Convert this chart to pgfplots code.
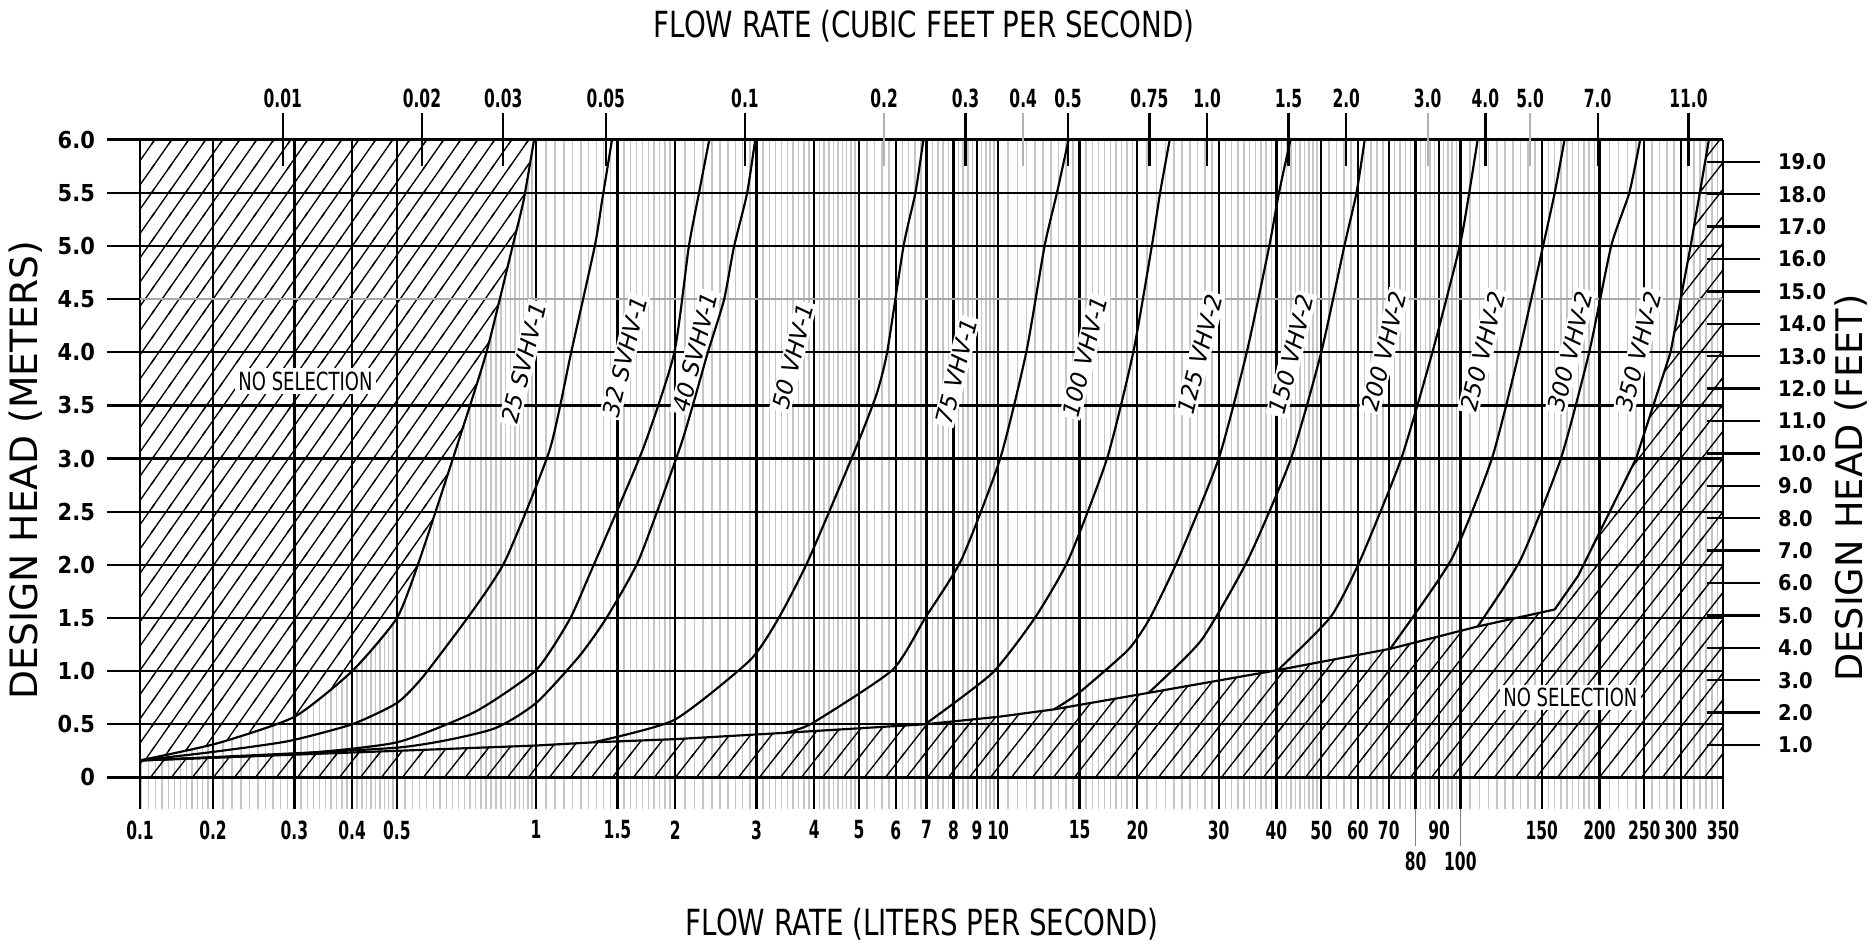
\documentclass[border=0pt]{standalone}
\usepackage{fontspec}
\setmainfont{DejaVu Sans}
\newfontfamily\condfont[FakeStretch=0.62]{DejaVu Sans Bold}
\newfontfamily\boldfont[FakeStretch=0.9]{DejaVu Sans Bold}
\newfontfamily\ttlfont[FakeStretch=0.77]{DejaVu Sans}
\newfontfamily\nsfont[FakeStretch=0.72]{DejaVu Sans}
\usepackage{pgfplots}
\pgfplotsset{compat=1.18}
\usetikzlibrary{patterns}

% hatching for the no-selection areas
\pgfdeclarepatternformonly{hatchA}{\pgfqpoint{-1pt}{-1pt}}{\pgfqpoint{6.1pt}{8.28pt}}{\pgfqpoint{5.1pt}{7.28pt}}{%
  \pgfsetlinewidth{0.4pt}%
  \pgfpathmoveto{\pgfqpoint{-0.51pt}{-0.728pt}}%
  \pgfpathlineto{\pgfqpoint{5.61pt}{8.008pt}}%
  \pgfusepath{stroke}}
\pgfdeclarepatternformonly{hatchB}{\pgfqpoint{-1pt}{-1pt}}{\pgfqpoint{7.3pt}{9.06pt}}{\pgfqpoint{6.3pt}{8.06pt}}{%
  \pgfsetlinewidth{0.4pt}%
  \pgfpathmoveto{\pgfqpoint{-0.63pt}{-0.806pt}}%
  \pgfpathlineto{\pgfqpoint{6.93pt}{8.866pt}}%
  \pgfusepath{stroke}}

\tikzset{
  lbl/.style={rotate=76, fill=white, inner sep=0.6pt, font=\itshape\fontsize{7}{8}\selectfont},
  mgrid/.style={gray!45, line width=0.45pt},
}
\pgfplotsset{curve/.style={black, line width=0.65pt, smooth, tension=0.35}}

\begin{document}
\begin{tikzpicture}
% minor grid and the no-selection areas
\begin{axis}[scale only axis, width=474.9pt, height=200.8pt,
  at={(0pt,0pt)}, anchor=south west,
  xmode=log, xmin=0.139, xmax=370, ymin=-0.297, ymax=6,
  axis line style={draw=none},
  xtick=\empty, ytick=\empty]
\pgfplotsinvokeforeach{0.14,0.145,...,0.197}{\draw[mgrid] (axis cs:#1,-0.297) -- (axis cs:#1,6);}
\pgfplotsinvokeforeach{0.21,0.22,...,0.495}{\draw[mgrid] (axis cs:#1,-0.297) -- (axis cs:#1,6);}
\pgfplotsinvokeforeach{0.52,0.54,...,0.99}{\draw[mgrid] (axis cs:#1,-0.297) -- (axis cs:#1,6);}
\pgfplotsinvokeforeach{1.05,1.1,...,1.97}{\draw[mgrid] (axis cs:#1,-0.297) -- (axis cs:#1,6);}
\pgfplotsinvokeforeach{2.1,2.2,...,4.95}{\draw[mgrid] (axis cs:#1,-0.297) -- (axis cs:#1,6);}
\pgfplotsinvokeforeach{5.2,5.4,...,9.9}{\draw[mgrid] (axis cs:#1,-0.297) -- (axis cs:#1,6);}
\pgfplotsinvokeforeach{10.5,11,...,19.7}{\draw[mgrid] (axis cs:#1,-0.297) -- (axis cs:#1,6);}
\pgfplotsinvokeforeach{21,22,...,49.5}{\draw[mgrid] (axis cs:#1,-0.297) -- (axis cs:#1,6);}
\pgfplotsinvokeforeach{52,54,...,99}{\draw[mgrid] (axis cs:#1,-0.297) -- (axis cs:#1,6);}
\pgfplotsinvokeforeach{105,110,...,197}{\draw[mgrid] (axis cs:#1,-0.297) -- (axis cs:#1,6);}
\pgfplotsinvokeforeach{210,220,...,365}{\draw[mgrid] (axis cs:#1,-0.297) -- (axis cs:#1,6);}
\addplot[draw=none, fill=white]
  coordinates {(0.139,0.16) (0.204,0.32) (0.30,0.57) (0.40,1.0) (0.50,1.5) (0.56,2.05) (0.67,3.08)
               (0.78,3.99) (0.89,5.0) (0.94,5.43) (0.99,6.0) (0.139,6.0)};
\addplot[draw=none, pattern=hatchA, pattern color=black]
  coordinates {(0.139,0.16) (0.204,0.32) (0.30,0.57) (0.40,1.0) (0.50,1.5) (0.56,2.05) (0.67,3.08)
               (0.78,3.99) (0.89,5.0) (0.94,5.43) (0.99,6.0) (0.139,6.0)};
\addplot[draw=none, pattern=hatchB, pattern color=black]
  coordinates {(0.139,0.16) (0.5,0.25) (1.0,0.30) (1.33,0.33) (2.0,0.36) (3.47,0.42) (6.95,0.50)
               (10,0.57) (13.2,0.64) (14.9,0.68) (20.8,0.79) (40.3,1.01) (70.5,1.21) (109,1.42)
               (160,1.58) (180,1.9) (205,2.4) (240,3.0) (285,4.0) (315,5.0) (345,6.0)
               (370,6.0) (370,0) (0.139,0)};
\end{axis}

% major grid, bottom and left scales, curves
\begin{axis}[scale only axis, width=474.9pt, height=200.8pt,
  at={(0pt,0pt)}, anchor=south west,
  xmode=log, xmin=0.139, xmax=370, ymin=-0.297, ymax=6,
  axis line style={draw=none}, clip=false,
  xtick={0.139,0.2,0.3,0.4,0.5,1,1.5,2,3,4,5,6,7,8,9,10,15,20,30,40,50,60,70,80,90,100,150,200,250,300,370},
  xticklabels={0.1,0.2,0.3,0.4,0.5,1,1.5,2,3,4,5,6,7,8,9,10,15,20,30,40,50,60,70,\raisebox{-15pt}{80},90,\raisebox{-15pt}{100},150,200,250,300,350},
  ytick={0,0.5,1,1.5,2,2.5,3,3.5,4,5,5.5,6},
  yticklabels={0,0.5,1.0,1.5,2.0,2.5,3.0,3.5,4.0,5.0,5.5,6.0},
  extra y ticks={4.5}, extra y tick labels={4.5},
  extra y tick style={major grid style={gray!70, line width=0.6pt}},
  xmajorgrids, ymajorgrids,
  major grid style={black, line width=0.7pt},
  xtick pos=left, ytick pos=left,
  xtick align=inside, ytick align=outside,
  major tick length=10pt,
  tick style={black, line width=0.7pt},
  xticklabel style={font=\condfont\fontsize{7.5}{9}\selectfont},
  yticklabel style={font=\boldfont\fontsize{7}{8}\selectfont}]
\draw[gray, line width=0.5pt] (axis cs:80,-0.297) -- ++(0pt,-11pt);
\draw[gray, line width=0.5pt] (axis cs:100,-0.297) -- ++(0pt,-11pt);
\node[fill=white, inner sep=1pt, font=\nsfont\fontsize{7.5}{9}\selectfont] at (axis cs:0.317,3.73) {NO SELECTION};
\node[fill=white, inner sep=1pt, font=\nsfont\fontsize{7.5}{9}\selectfont] at (axis cs:173,0.75) {NO SELECTION};
\node[lbl] at (axis cs:0.94,3.90) {25 SVHV-1};
\node[lbl] at (axis cs:1.555,3.96) {32 SVHV-1};
\node[lbl] at (axis cs:2.21,4.0) {40 SVHV-1};
\node[lbl] at (axis cs:3.60,3.96) {50 VHV-1};
\node[lbl] at (axis cs:8.13,3.82) {75 VHV-1};
\node[lbl] at (axis cs:15.4,3.96) {100 VHV-1};
\node[lbl] at (axis cs:27.3,3.98) {125 VHV-2};
\node[lbl] at (axis cs:43.1,3.98) {150 VHV-2};
\node[lbl] at (axis cs:68.5,4.01) {200 VHV-2};
\node[lbl] at (axis cs:111.8,4.01) {250 VHV-2};
\node[lbl] at (axis cs:173,4.01) {300 VHV-2};
\node[lbl] at (axis cs:243,4.01) {350 VHV-2};
% minimum head line and right limit
\addplot[black, line width=0.65pt] coordinates {(0.139,0.16) (0.5,0.25) (1.0,0.30) (1.33,0.33) (2.0,0.36)
  (3.47,0.42) (6.95,0.50) (10,0.57) (13.2,0.64) (14.9,0.68) (20.8,0.79) (40.3,1.01) (70.5,1.21)
  (109,1.42) (160,1.58) (180,1.9) (205,2.4) (240,3.0) (285,4.0) (315,5.0) (345,6.0)};
% 25 SVHV-1
\addplot[curve] coordinates {(0.139,0.16) (0.204,0.32) (0.30,0.57) (0.40,1.0) (0.50,1.5)
  (0.56,2.05) (0.67,3.08) (0.78,3.99) (0.89,5.0) (0.94,5.43) (0.99,6.0)};
% 32 SVHV-1
\addplot[curve] coordinates {(0.139,0.16) (0.2,0.24) (0.29,0.34) (0.4,0.5) (0.5,0.70)
  (0.57,0.95) (0.73,1.57) (0.86,2.05) (1.07,3.08) (1.19,3.99) (1.34,5.0) (1.39,5.43) (1.46,6.0)};
% 40 SVHV-1
\addplot[curve] coordinates {(0.139,0.16) (0.3,0.22) (0.5,0.33) (0.74,0.62) (1.0,1.01)
  (1.18,1.48) (1.30,1.89) (1.70,3.08) (1.99,3.99) (2.14,4.99) (2.25,5.49) (2.37,6.0)};
% 50 VHV-1
\addplot[curve] coordinates {(0.139,0.16) (0.5,0.28) (0.8,0.45) (1.0,0.70) (1.24,1.14)
  (1.42,1.5) (1.67,2.05) (2.04,3.08) (2.18,3.49) (2.35,3.99) (2.55,4.49) (2.68,4.99) (2.86,5.49) (2.98,6.0)};
% 75 VHV-1
\addplot[curve] coordinates {(1.33,0.33) (1.99,0.54) (2.9,1.10) (3.35,1.5) (3.89,2.05)
  (4.9,3.08) (5.45,3.6) (5.75,4.0) (6.24,5.0) (6.62,5.5) (6.89,6.0)};
% 100 VHV-1
\addplot[curve] coordinates {(3.47,0.42) (3.96,0.51) (5.9,1.01) (6.95,1.50) (8.33,2.05)
  (10.1,3.0) (11.5,4.0) (12.6,5.0) (13.4,5.5) (14.2,6.0)};
% 125 VHV-2
\addplot[curve] coordinates {(6.95,0.50) (9.7,0.98) (12,1.5) (14.2,2.05) (17.2,3.0)
  (19.6,4.0) (21.5,5.0) (22.4,5.5) (23.5,6.0)};
% 150 VHV-2
\addplot[curve] coordinates {(13.2,0.64) (14.9,0.79) (19.1,1.20) (21.3,1.50) (24.5,2.05)
  (30,3.0) (34.5,4.0) (38.6,5.0) (40.5,5.5) (42.9,6.0)};
% 200 VHV-2
\addplot[curve] coordinates {(21.2,0.80) (27.5,1.29) (34.7,2.05) (43,3.0) (50,4.0)
  (56.1,5.0) (59.6,5.5) (62.1,6.0)};
% 250 VHV-2
\addplot[curve] coordinates {(40.3,1.01) (52.4,1.51) (60.8,2.05) (74.5,3.0) (87,4.0)
  (99.7,5.0) (104.5,5.5) (109,6.0)};
% 300 VHV-2
\addplot[curve] coordinates {(70.5,1.21) (95.6,2.05) (117,3.0) (134,4.0) (151,5.0)
  (160,5.5) (168,6.0)};
% 350 VHV-2
\addplot[curve] coordinates {(109,1.42) (135,2.05) (165,3.0) (190,4.0) (212,5.0)
  (232,5.5) (245,6.0)};
\end{axis}

% cubic feet per second (top) and feet (right)
\begin{axis}[scale only axis, width=474.9pt, height=200.8pt,
  at={(0pt,0pt)}, anchor=south west,
  xmode=log, xmin=0.139, xmax=370, ymin=-0.297, ymax=6,
  axis line style={draw=none},
  axis x line*=top, axis y line*=right,
  xtick={0.28317,0.56634,0.84950,1.41584,2.83168,8.49505,14.1584,21.2376,28.3168,42.4753,56.6337,113.267,198.218,311.485},
  xticklabels={0.01,0.02,0.03,0.05,0.1,0.3,0.5,0.75,1.0,1.5,2.0,4.0,7.0,11.0},
  extra x ticks={5.66337,11.3267,84.9505,141.584},
  extra x tick labels={0.2,0.4,3.0,5.0},
  extra x tick style={major tick style={gray!60, line width=0.6pt}},
  ytick={0.3048,0.6096,0.9144,1.2192,1.524,1.8288,2.1336,2.4384,2.7432,3.048,3.3528,3.6576,3.9624,4.2672,4.572,4.8768,5.1816,5.4864,5.7912},
  yticklabels={1.0,2.0,3.0,4.0,5.0,6.0,7.0,8.0,9.0,10.0,11.0,12.0,13.0,14.0,15.0,16.0,17.0,18.0,19.0},
  xtick align=center, ytick align=outside,
  major tick length=16pt,
  tick style={black, line width=0.7pt},
  ytick style={xshift=-4.8pt},
  xticklabel style={font=\condfont\fontsize{7.5}{9}\selectfont, yshift=-2pt},
  yticklabel style={font=\boldfont\fontsize{6.5}{8}\selectfont, xshift=-3pt}]
\addplot[draw=none] coordinates {(1,1)};
\end{axis}

\node[font=\ttlfont\fontsize{10.8}{12}\selectfont] at (235.2pt,234.9pt) {FLOW RATE (CUBIC FEET PER SECOND)};
\node[font=\ttlfont\fontsize{10.8}{12}\selectfont] at (234.6pt,-34.5pt) {FLOW RATE (LITERS PER SECOND)};
\node[rotate=90, font=\fontsize{11.3}{13}\selectfont] at (-34.2pt,101.7pt) {DESIGN HEAD (METERS)};
\node[rotate=90, font=\fontsize{11}{13}\selectfont] at (513.3pt,96.3pt) {DESIGN HEAD (FEET)};
\pgfresetboundingbox
\path[use as bounding box] (-42pt,-40.2pt) rectangle (518.7pt,242.7pt);
\end{tikzpicture}
\end{document}
